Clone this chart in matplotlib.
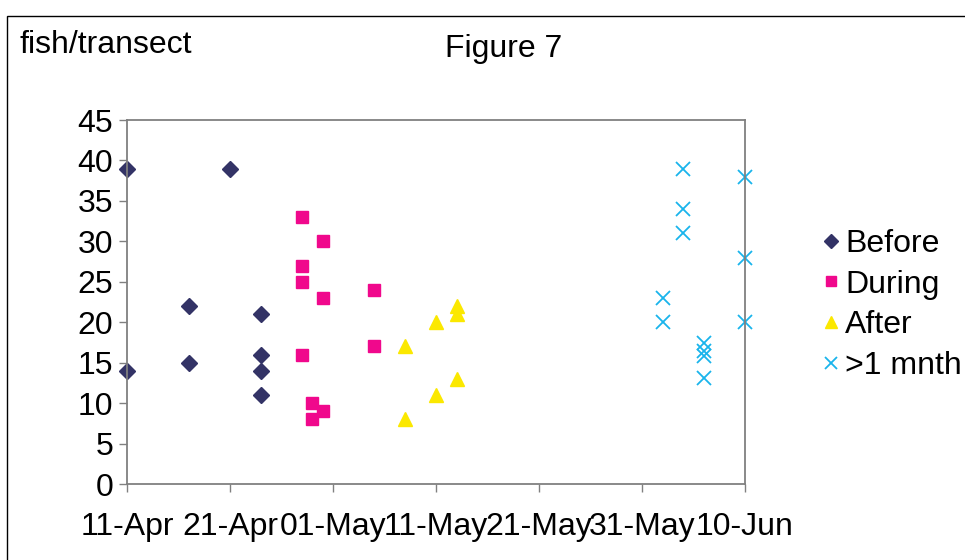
import pandas as pd
import matplotlib
matplotlib.use('Agg')
import matplotlib.pyplot as plt
import matplotlib.dates as mdates
from matplotlib.patches import Rectangle

plt.rcParams['font.family'] = ['Liberation Sans', 'DejaVu Sans']

year = '2002-'

# fish/transect counts by survey date
before_dates = ['04-11', '04-11', '04-17', '04-17', '04-21', '04-24', '04-24', '04-24', '04-24']
before_vals = [39, 14, 22, 15, 39, 21, 16, 14, 11]

during_dates = ['04-28', '04-28', '04-28', '04-28', '04-29', '04-29',
                '04-30', '04-30', '04-30', '05-05', '05-05']
during_vals = [33, 27, 25, 16, 10, 8, 30, 23, 9, 24, 17]

after_dates = ['05-08', '05-08', '05-11', '05-11', '05-13', '05-13', '05-13']
after_vals = [17, 8, 20, 11, 22, 21, 13]

month_dates = ['06-02', '06-02', '06-04', '06-04', '06-04',
               '06-06', '06-06', '06-06', '06-06', '06-10', '06-10', '06-10']
month_vals = [23, 20, 39, 34, 31, 17.4, 16.5, 15.8, 13.1, 38, 28, 20]

series_names = ['Before', 'During', 'After', '>1 mnth']


def to_dt(days):
    return pd.to_datetime([year + d for d in days])


fs = 23
fig = plt.figure(figsize=(9.65, 5.6), dpi=100)
ax = fig.add_axes([127 / 965, 1 - 484 / 560, (745 - 127) / 965, (484 - 120) / 560])

ax.plot(to_dt(before_dates), before_vals, ls='none', marker='D', ms=8,
        color='#333366', label=series_names[0], clip_on=False)
ax.plot(to_dt(during_dates), during_vals, ls='none', marker='s', ms=8.5,
        color='#f0088c', label=series_names[1], clip_on=False)
ax.plot(to_dt(after_dates), after_vals, ls='none', marker='^', ms=10,
        color='#fbe800', label=series_names[2], clip_on=False)
ax.plot(to_dt(month_dates), month_vals, ls='none', marker='x', ms=10, mew=1.3,
        color='#19b4ec', label=series_names[3], clip_on=False)

ax.set_xlim(pd.Timestamp(year + '04-11'), pd.Timestamp(year + '06-10'))
ax.set_ylim(0, 45)
ax.set_xticks(pd.date_range(year + '04-11', periods=7, freq='10D'))
ax.xaxis.set_major_formatter(mdates.DateFormatter('%d-%b'))
ax.set_yticks(range(0, 46, 5))

for sp in ax.spines.values():
    sp.set_color('#808080')
    sp.set_linewidth(1.3)
ax.tick_params(axis='both', direction='out', color='#808080', width=1.0,
               length=6, labelsize=fs)
ax.tick_params(axis='x', pad=14)
ax.tick_params(axis='y', pad=4)

leg = ax.legend(loc='center left', bbox_to_anchor=(821 / 965, 1 - 305 / 560),
                bbox_transform=fig.transFigure, frameon=False, fontsize=fs,
                borderpad=0, borderaxespad=0, handlelength=0.6,
                handletextpad=0.15, labelspacing=0.34, markerscale=0.9)

fig.text(20 / 965, 1 - 53 / 560, 'fish/transect', fontsize=fs, va='baseline')
fig.text(445 / 965, 1 - 57 / 560, 'Figure 7', fontsize=fs, va='baseline')

fig.patches.append(Rectangle((7 / 965, -0.1), 2, 1 - 16 / 560 + 0.1,
                             transform=fig.transFigure, fill=False,
                             ec='black', lw=1))

fig.savefig('out.png', dpi=100)
